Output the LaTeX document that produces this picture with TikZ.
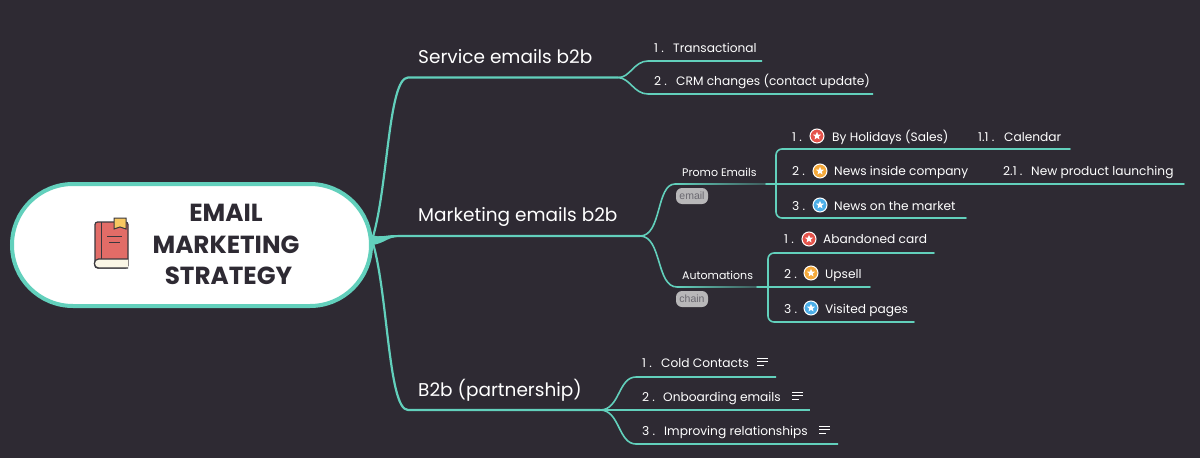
\documentclass[tikz,border=0pt]{standalone}
\usepackage{fontspec}
\setmainfont{Poppins}
\usepackage{xcolor}
\usetikzlibrary{shapes.geometric,calc}
\definecolor{bgdark}{HTML}{2E2A33}
\definecolor{teal}{HTML}{62D0BC}
\definecolor{tagfill}{HTML}{B8B7B9}
\definecolor{tagtext}{HTML}{6A6870}
\definecolor{pred}{HTML}{E5534B}
\definecolor{porange}{HTML}{F5A93A}
\definecolor{pblue}{HTML}{4CAEE8}
\definecolor{bookred}{HTML}{E26C67}
\definecolor{bookline}{HTML}{3A383E}
\definecolor{bookcream}{HTML}{FBF6E6}
\definecolor{bookmark}{HTML}{F8C861}
\tikzset{
 trunk/.style={draw=teal,line width=2.2pt},
 twig/.style={draw=teal,line width=1.6pt},
 branch/.style={draw=teal,line width=1.6pt,line cap=round,rounded corners=6pt},
 fade/.style={left color=teal,right color=teal!30!bgdark},
 main/.style={text=white,anchor=base west,inner sep=0pt,font=\fontsize{18.5}{22}\selectfont},
 sub/.style={text=white,anchor=base west,inner sep=0pt,font=\fontsize{11}{14}\selectfont},
 leaf/.style={text=white,anchor=base west,inner sep=0pt,font=\fontsize{12.2}{16}\selectfont},
 tag/.style={fill=tagfill,rounded corners=6pt,text=tagtext,inner sep=0pt,minimum width=32pt,minimum height=16pt,font=\fontsize{10.5}{12}\selectfont\fontspec{Liberation Sans}},
 prio/.style={circle,fill=#1,draw=white,line width=1pt,minimum size=14pt,inner sep=0pt},
 pstar/.style={star,star points=5,star point ratio=2.3,fill=white,inner sep=0pt,minimum size=8.5pt},
 noteline/.style={draw=white,line width=1pt},
}
\begin{document}
\begin{tikzpicture}[x=1pt,y=-1pt]
 \fill[bgdark] (0,0) rectangle (1200,458);
 \useasboundingbox (0,0) rectangle (1200,458);

 % junctions
 \coordinate (hub) at (372,240);
 \coordinate (j1) at (618,77.5);
 \coordinate (j2) at (640,236);
 \coordinate (j3) at (600,410);

 % first level
 \draw[trunk] (hub) .. controls (388,190) and (388,78) .. (408,77.5) -- (j1);
 \draw[trunk] (hub) .. controls (382,240) and (388,236) .. (400,236) -- (j2);
 \draw[trunk] (hub) .. controls (388,290) and (388,410) .. (408,410) -- (j3);
 \fill[teal] (372,235) .. controls (380,238) and (386,235) .. (395,235) -- (395,237) .. controls (388,238) and (382,244) .. (372,245) -- cycle;

 % second level
 \coordinate (e1) at (762,61);
 \coordinate (e2) at (873,94);
 \draw[twig] (j1) .. controls (630,78) and (634,61) .. (648,61) -- (e1);
 \draw[twig] (j1) .. controls (630,78) and (634,94) .. (648,94) -- (e2);

 \coordinate (pa) at (675,184);
 \coordinate (pb) at (766,184);
 \coordinate (aa) at (677,287);
 \coordinate (ab) at (757,287);
 \draw[twig] (j2) .. controls (662,236) and (656,184) .. (pa);
 \draw[twig] (j2) .. controls (662,236) and (656,287) .. (aa);
 \shade[fade] (pa) ++(0,-.8) rectangle ($(pb)+(0,.8)$);
 \shade[fade] (aa) ++(0,-.8) rectangle ($(ab)+(0,.8)$);

 % promo brackets
 \coordinate (p1) at (1070,149);
 \coordinate (p2) at (1184,184);
 \coordinate (p3) at (966,218);
 \draw[branch] (p1) -- (776,149) -- (776,218) -- (p3);
 \draw[branch] (pb) -- (p2);

 % automations brackets
 \coordinate (a1) at (934,253);
 \coordinate (a2) at (870,287);
 \coordinate (a3) at (914,322);
 \draw[branch] (a1) -- (768,253) -- (768,322) -- (a3);
 \draw[branch] (ab) -- (a2);

 % partnership
 \coordinate (b1) at (776,377);
 \coordinate (b2) at (810,410);
 \coordinate (b3) at (838,444);
 \draw[twig] (j3) .. controls (620,410) and (618,377) .. (636,377) -- (b1);
 \draw[twig] (j3) -- (b2);
 \draw[twig] (j3) .. controls (620,410) and (618,444) .. (636,444) -- (b3);

 % root
 \node[draw=teal,fill=white,line width=4pt,rounded corners=61pt,minimum width=359pt,minimum height=122pt,inner sep=0pt] (root) at (191.5,245) {};
 \node[font=\fontsize{24.7}{31.5}\selectfont\bfseries,text=bgdark,align=center] (title) at (226,244.5) {EMAIL\\MARKETING\\\hspace{5pt}STRATEGY};

 % book
 \draw[fill=bookred,draw=bookline,line width=1.2pt,rounded corners=2.5pt] (95,222) -- (128,222) -- (128,268) -- (95,268) -- cycle;
 \draw[fill=bookcream,draw=bookline,line width=1.2pt,rounded corners=2.5pt] (128,268) -- (101,268) .. controls (93,268) and (93,259) .. (101,259) -- (128,259);
 \draw[draw=bookline,line width=1pt] (101,259) -- (101,222);
 \draw[fill=bookmark,draw=bookline,line width=1pt] (114,218) -- (126,218) -- (126,229) -- (120,227) -- (114,229) -- cycle;
 \draw[draw=bookline,line width=1pt] (107,236) -- (122,236) (109,242) -- (120,242);

 % first level labels
 \node[main] (service) at (418,63) {Service emails b2b};
 \node[main] (marketing) at (418,221) {Marketing emails b2b};
 \node[main] (partner) at (418,396) {B2b (partnership)};

 % service
 \node[leaf] (s1n) at (654,52) {1 .};
 \node[leaf] (s1) at (673,52) {Transactional};
 \node[leaf] (s2n) at (654,85) {2 .};
 \node[leaf] (s2) at (676,85) {CRM changes (contact update)};

 % promo
 \node[sub] (promo) at (682,176) {Promo Emails};
 \node[tag] (email) at (692,196) {email};
 \node[leaf] (p1n) at (792,141) {1 .};
 \node[prio=pred] (p1i) at (817,136) {};
 \node[pstar] (p1s) at (p1i) {};
 \node[leaf] (p1t) at (832,141) {By Holidays (Sales)};
 \node[leaf] (p11n) at (978,141) {1.1 .};
 \node[leaf] (p11) at (1004,141) {Calendar};
 \node[leaf] (p2n) at (792,175) {2 .};
 \node[prio=porange] (p2i) at (820,171) {};
 \node[pstar] (p2s) at (p2i) {};
 \node[leaf] (p2t) at (834,175) {News inside company};
 \node[leaf] (p21n) at (1003,175) {2.1 .};
 \node[leaf] (p21) at (1031,175) {New product launching};
 \node[leaf] (p3n) at (792,210) {3 .};
 \node[prio=pblue] (p3i) at (820,205) {};
 \node[pstar] (p3s) at (p3i) {};
 \node[leaf] (p3t) at (834,210) {News on the market};

 % automations
 \node[sub] (auto) at (682,279) {Automations};
 \node[tag] (chain) at (692,299) {chain};
 \node[leaf] (a1n) at (784,243) {1 .};
 \node[prio=pred] (a1i) at (809,239) {};
 \node[pstar] (a1s) at (a1i) {};
 \node[leaf] (a1t) at (823,243) {Abandoned card};
 \node[leaf] (a2n) at (784,278) {2 .};
 \node[prio=porange] (a2i) at (811,273) {};
 \node[pstar] (a2s) at (a2i) {};
 \node[leaf] (a2t) at (825,278) {Upsell};
 \node[leaf] (a3n) at (784,313) {3 .};
 \node[prio=pblue] (a3i) at (811,308) {};
 \node[pstar] (a3s) at (a3i) {};
 \node[leaf] (a3t) at (825,313) {Visited pages};

 % partnership items
 \node[leaf] (b1n) at (642,367) {1 .};
 \node[leaf] (b1t) at (661,367) {Cold Contacts};
 \node[leaf] (b2n) at (642,401) {2 .};
 \node[leaf] (b2t) at (663,401) {Onboarding emails};
 \node[leaf] (b3n) at (642,435) {3 .};
 \node[leaf] (b3t) at (664,435) {Improving relationships};
 \foreach \nx/\ny in {757/358,792/392,819/426} {
  \draw[noteline] (\nx,\ny) -- ++(11,0);
  \draw[noteline] (\nx,\ny+3.5) -- ++(11,0);
  \draw[noteline] (\nx,\ny+7) -- ++(7,0);
 }
\end{tikzpicture}
\end{document}
